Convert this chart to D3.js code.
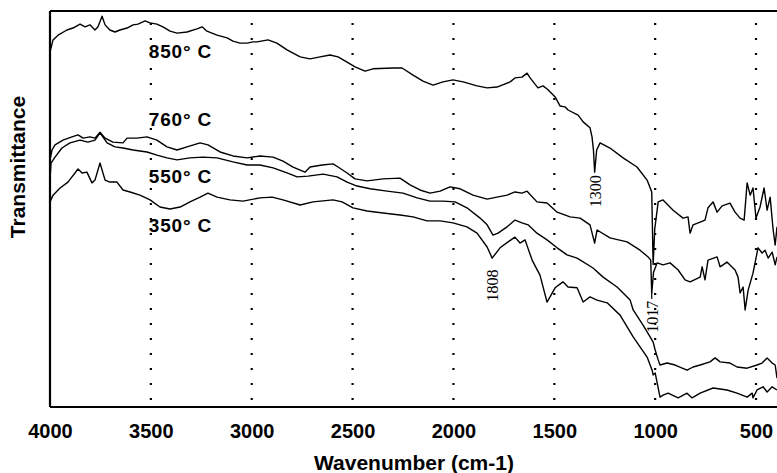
<!DOCTYPE html>
<html><head><meta charset="utf-8">
<script src="https://cdn.jsdelivr.net/npm/d3@7"></script>
<style>
html,body{margin:0;padding:0;background:#fff;}
svg{display:block;}
</style></head>
<body>
<svg id="chart" width="777" height="473"></svg>
<script>
// ---- data (wavenumber cm-1, transmittance arbitrary %) ----
const xTicks = [4000, 3500, 3000, 2500, 2000, 1500, 1000, 500];
const gridLines = [3500, 3000, 2500, 2000, 1500, 1000, 500];
const seriesNames = ["850° C", "760° C", "550° C", "350° C"];

const s850 = [[4000,89.6],[3985,92.7],[3960,93.9],[3916,95.2],[3886,95.7],[3851,96.7],[3826,96.0],[3802,96.5],[3777,95.2],[3762,96.0],[3742,98.7],[3727,96.5],[3703,95.2],[3678,94.7],[3653,95.2],[3618,95.7],[3588,96.5],[3564,96.7],[3529,97.5],[3504,97.0],[3470,96.7],[3440,96.0],[3405,94.9],[3370,94.4],[3321,94.7],[3271,95.5],[3246,96.0],[3222,94.9],[3172,93.9],[3122,93.2],[3093,92.4],[3058,91.9],[3023,91.9],[2994,92.2],[2974,92.2],[2919,92.7],[2875,91.9],[2825,90.2],[2760,88.4],[2711,87.9],[2661,88.4],[2612,88.9],[2572,88.4],[2527,87.1],[2488,85.9],[2438,84.8],[2399,85.4],[2299,85.6],[2255,85.6],[2200,83.8],[2151,82.3],[2101,81.3],[2052,82.1],[2002,82.6],[1952,82.1],[1883,81.1],[1833,80.6],[1784,80.8],[1719,82.1],[1695,83.1],[1660,83.3],[1635,84.3],[1620,83.1],[1581,80.6],[1556,81.1],[1531,80.1],[1496,78.3],[1471,76.0],[1447,75.8],[1432,75.0],[1382,73.7],[1357,72.0],[1323,70.5],[1313,68.2],[1306,64.9],[1300,59.3],[1290,64.9],[1273,66.7],[1224,65.4],[1159,62.9],[1090,60.6],[1040,57.3],[1017,54.3],[1010,36.0],[1002,45.0],[985,51.8],[961,52.3],[911,49.7],[862,47.7],[837,48.0],[827,43.9],[812,46.0],[777,46.7],[753,47.2],[738,50.3],[713,51.8],[693,49.2],[668,50.8],[629,51.5],[604,49.2],[579,47.7],[559,47.2],[544,56.6],[529,53.5],[515,55.3],[500,47.7],[480,50.5],[460,55.3],[445,49.7],[430,53.0],[415,44.7],[405,40.9],[396,45.5]];

const s760 = [[4000,62.4],[3990,64.9],[3975,66.2],[3936,67.4],[3891,68.2],[3861,68.7],[3836,67.9],[3802,68.2],[3777,67.9],[3752,69.4],[3727,67.9],[3688,66.9],[3638,66.7],[3618,67.9],[3569,67.9],[3519,68.2],[3470,67.4],[3420,65.7],[3370,64.9],[3321,65.7],[3256,66.7],[3217,66.2],[3157,64.4],[3093,63.4],[3023,62.9],[2959,63.4],[2894,63.1],[2845,62.1],[2795,60.6],[2736,59.3],[2711,60.6],[2651,61.1],[2597,61.4],[2572,60.6],[2527,59.1],[2488,57.6],[2428,57.1],[2349,57.6],[2265,57.8],[2215,56.1],[2166,54.8],[2116,54.0],[2066,54.5],[2017,55.6],[1967,55.1],[1903,53.5],[1833,52.5],[1784,53.0],[1734,53.5],[1695,54.3],[1660,54.0],[1635,54.5],[1586,51.8],[1536,51.5],[1486,49.2],[1422,48.0],[1372,47.7],[1323,46.0],[1300,41.4],[1288,44.7],[1224,42.7],[1139,41.7],[1075,39.6],[1035,37.9],[1022,37.1],[1017,28.8],[1008,34.0],[990,36.4],[961,35.9],[926,36.4],[886,34.6],[852,32.1],[827,31.6],[777,32.8],[767,35.4],[753,32.1],[738,37.1],[693,37.9],[678,35.4],[644,36.6],[604,34.6],[589,32.8],[579,28.8],[564,30.3],[554,24.5],[539,29.5],[515,33.8],[490,40.2],[470,38.9],[455,39.6],[440,37.6],[420,39.1],[405,35.9],[396,37.9]];

const s550 = [[3998,59.0],[3995,61.6],[3975,63.1],[3941,65.4],[3901,66.7],[3851,67.4],[3812,66.9],[3777,67.4],[3752,69.2],[3717,66.7],[3678,65.7],[3638,65.4],[3588,64.9],[3519,64.4],[3470,63.6],[3420,62.9],[3370,62.4],[3306,62.9],[3241,63.1],[3172,62.9],[3093,61.9],[3023,61.1],[2959,61.1],[2894,60.4],[2825,59.1],[2775,58.1],[2721,58.3],[2646,58.8],[2577,58.1],[2527,56.8],[2478,55.8],[2413,55.1],[2329,54.5],[2250,54.0],[2180,52.8],[2116,52.0],[2052,52.0],[1992,51.8],[1933,50.3],[1868,47.7],[1833,46.0],[1804,43.4],[1779,43.9],[1734,45.5],[1695,47.2],[1660,46.5],[1630,46.0],[1586,43.9],[1536,42.2],[1486,40.2],[1437,38.4],[1387,37.6],[1308,35.1],[1258,32.8],[1189,30.3],[1124,27.0],[1109,24.5],[1060,20.7],[1025,17.7],[1010,16.4],[1000,14.4],[985,11.9],[976,10.6],[941,11.1],[901,10.6],[842,9.3],[812,10.1],[777,10.6],[728,11.4],[703,12.4],[678,11.4],[629,11.1],[594,10.1],[544,9.8],[495,10.6],[470,11.1],[445,12.4],[420,11.1],[405,10.6],[396,7.3]];

const s350 = [[4000,51.8],[3985,53.5],[3950,55.3],[3911,56.8],[3861,60.1],[3841,59.1],[3817,59.3],[3792,56.6],[3777,57.3],[3752,61.6],[3727,57.3],[3703,56.8],[3668,56.8],[3638,54.8],[3603,54.3],[3554,53.5],[3504,52.3],[3455,50.5],[3405,50.0],[3355,50.5],[3306,51.8],[3256,53.0],[3217,54.0],[3172,53.0],[3108,52.3],[3043,52.0],[2959,52.8],[2899,53.0],[2845,52.3],[2760,51.0],[2696,51.8],[2597,52.3],[2552,51.8],[2498,50.3],[2428,49.5],[2349,49.0],[2265,48.5],[2200,48.0],[2131,47.0],[2066,47.0],[2002,46.5],[1933,45.5],[1883,43.9],[1833,40.4],[1808,37.6],[1769,40.2],[1729,41.7],[1695,42.9],[1670,41.4],[1645,42.2],[1610,37.1],[1571,33.3],[1536,26.5],[1521,27.8],[1496,30.1],[1457,31.6],[1432,30.3],[1387,30.1],[1357,26.5],[1323,27.8],[1288,27.0],[1238,26.3],[1174,23.2],[1109,17.7],[1040,12.6],[1015,9.3],[1010,8.1],[1000,8.6],[990,6.1],[976,2.5],[961,3.0],[936,3.5],[886,2.3],[842,3.5],[817,2.3],[777,3.5],[713,4.8],[644,4.3],[594,3.5],[544,2.5],[519,3.5],[515,2.3],[495,4.3],[465,5.1],[445,3.8],[420,5.1],[396,4.3]];

const peakLabels = ["1300", "1808", "1017"];
const peakWn = [1300, 1808, 1017];
const peakT = [54.5, 30.7, 22.8];

// ---- layout ----
const svg = d3.select("#chart");
const L = 50, R = 777, T = 11, B = 407;
const x = d3.scaleLinear().domain([4000, 396]).range([L, R]);
const y = d3.scaleLinear().domain([0, 100]).range([B, T]);

// dotted grid
svg.append("g").selectAll("line").data(gridLines).join("line")
  .attr("x1", d => x(d)).attr("x2", d => x(d))
  .attr("y1", T + 12).attr("y2", B)
  .attr("stroke", "#000").attr("stroke-width", 2.2)
  .attr("stroke-dasharray", "2,13");

// curves
const line = d3.line().x(d => x(d[0])).y(d => y(d[1]));
[s850, s760, s550, s350].forEach(s => {
  svg.append("path").datum(s).attr("d", line)
    .attr("fill", "none").attr("stroke", "#000")
    .attr("stroke-width", 1.4).attr("stroke-linejoin", "round");
});

// frame
svg.append("line").attr("x1", L).attr("x2", R).attr("y1", T).attr("y2", T)
  .attr("stroke", "#000").attr("stroke-width", 2);
svg.append("line").attr("x1", L).attr("x2", R).attr("y1", B).attr("y2", B)
  .attr("stroke", "#000").attr("stroke-width", 2);
svg.append("line").attr("x1", L).attr("x2", L).attr("y1", T).attr("y2", B)
  .attr("stroke", "#000").attr("stroke-width", 2.2);

// x axis tick labels via d3 axis
const xAxis = d3.axisBottom(x).tickValues(xTicks).tickFormat(d3.format("d"))
  .tickSize(0).tickPadding(0);
const gx = svg.append("g").attr("transform", `translate(0,${B})`).call(xAxis);
gx.select(".domain").remove();
gx.selectAll("text")
  .attr("dy", null).attr("y", 31)
  .style("font-family", "'Liberation Sans', Arial, sans-serif")
  .style("font-weight", "bold").style("font-size", "20px").attr("fill", "#000");

// axis titles
svg.append("text").attr("x", 414).attr("y", 470).attr("text-anchor", "middle")
  .style("font-family", "'Liberation Sans', Arial, sans-serif")
  .style("font-weight", "bold").style("font-size", "21px")
  .text("Wavenumber (cm-1)");
svg.append("text").attr("transform", "translate(25,167) rotate(-90)")
  .attr("text-anchor", "middle")
  .style("font-family", "'Liberation Sans', Arial, sans-serif")
  .style("font-weight", "bold").style("font-size", "21px")
  .text("Transmittance");

// series labels
const labelWn = [3510, 3510, 3510, 3510];
const labelT = [88.1, 70.9, 56.6, 44.2];
svg.append("g").selectAll("text").data(seriesNames).join("text")
  .attr("x", (d, i) => x(labelWn[i])).attr("y", (d, i) => y(labelT[i]))
  .style("font-family", "'Liberation Sans', Arial, sans-serif")
  .style("font-weight", "bold").style("font-size", "19px")
  .style("letter-spacing", "0.8px")
  .text(d => d);

// peak annotations (rotated serif)
svg.append("g").selectAll("text").data(peakLabels).join("text")
  .attr("transform", (d, i) => `translate(${x(peakWn[i]) + 6},${y(peakT[i])}) rotate(-90)`)
  .attr("text-anchor", "middle")
  .style("font-family", "'Liberation Serif', 'Times New Roman', serif")
  .style("font-size", "16px")
  .text(d => d);
// leader for 1017
svg.append("line").attr("x1", x(1017)).attr("x2", x(1017))
  .attr("y1", y(29)).attr("y2", y(27.3))
  .attr("stroke", "#000").attr("stroke-width", 1.2);
</script>
</body></html>
